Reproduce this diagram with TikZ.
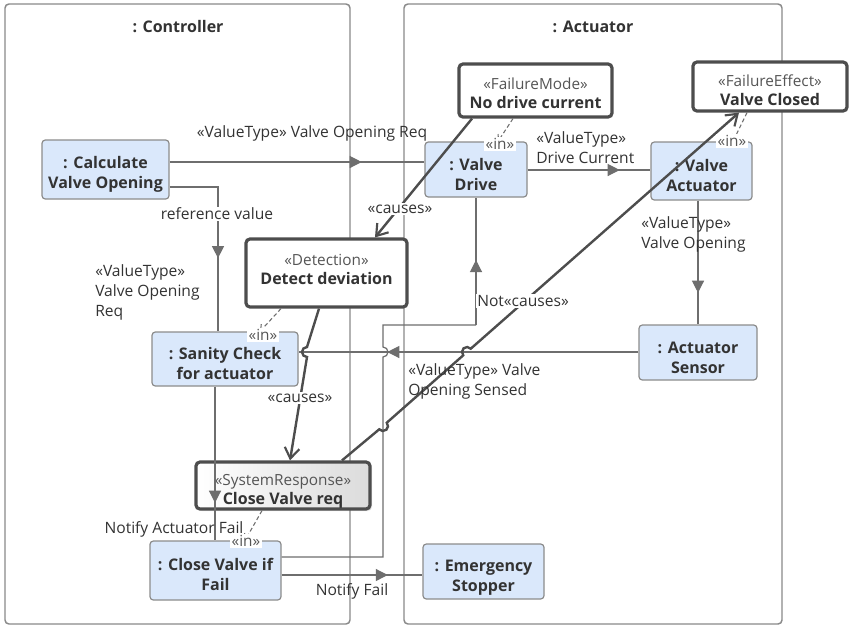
\documentclass[tikz,border=0pt]{standalone}
\usepackage{fontspec}
\setmainfont{Open Sans}
\usetikzlibrary{arrows.meta,shadows,decorations.markings}
\definecolor{blkfill}{HTML}{DAE8FB}
\definecolor{blkline}{HTML}{8C8C8C}
\definecolor{wirecol}{HTML}{6E6E6E}
\definecolor{heavy}{HTML}{4D4D4D}
\definecolor{ink}{HTML}{333333}
\definecolor{stereo}{HTML}{555555}
\definecolor{framecol}{HTML}{8A8A8A}
\newcommand\stype[1]{{\color{stereo}#1}}
\newcommand\bname[1]{{\fontsize{12}{14.3}\selectfont\bfseries #1}}
\begin{document}
\begin{tikzpicture}[x=0.75pt,y=-0.75pt,
  font=\fontsize{11.7}{15}\selectfont, text=ink,
  sz/.style 2 args={minimum width=#1*0.75pt, minimum height=#2*0.75pt},
  frame/.style={draw=framecol, line width=1.1pt, rounded corners=3pt, inner sep=0pt},
  title/.style={font=\fontsize{12}{15}\selectfont\bfseries},
  blk/.style={draw=blkline, fill=blkfill, line width=0.9pt, rounded corners=2.5pt, inner sep=0pt},
  btxt/.style={align=center, inner sep=0pt, text=ink, font=\fontsize{12}{15}\selectfont\bfseries},
  fault/.style={draw=heavy, fill=white, line width=2.4pt, rounded corners=3pt, inner sep=0pt},
  ftxt/.style={align=center, inner sep=0pt, text=ink, font=\fontsize{11.5}{14.3}\selectfont},
  wire/.style={draw=wirecol, line width=0.9pt},
  mid/.style={postaction={decorate,decoration={markings,
    mark=at position #1 with {\arrow{Triangle[length=9pt,width=9pt]}}}}},
  cause/.style={draw=heavy, line width=1.8pt,
    -{Straight Barb[length=8pt,width=11pt,line width=1.6pt]}},
  inlink/.style={draw=wirecol, line width=0.8pt, dash pattern=on 3pt off 2pt,
    -{Straight Barb[length=4pt,width=6pt]}},
  inlabel/.style={fill=white, inner sep=1pt, font=\fontsize{11.5}{13}\selectfont, text=stereo},
  lbl/.style={align=left, inner sep=0pt, text=ink},
  bglbl/.style={fill=white, inner sep=1pt, text=ink},
]
\useasboundingbox (0,0) rectangle (849,626);
\fill[white] (0,0) rectangle (849,626);

% two part frames
\node[frame, sz={345}{620}] (ctrl) at (177.5,314) {};
\node[title] (ctrltitle) at (178,27) {: Controller};
\node[frame, sz={378}{620}] (act) at (593,314) {};
\node[title] (acttitle) at (593,27) {: Actuator};

% functional blocks (names set slightly below the box centre)
\node[blk, sz={127}{59}, label={[btxt, yshift=-3.5pt]center:{: Calculate\\Valve Opening}}] (calc) at (105.5,169.5) {};
\node[blk, sz={102}{55}, label={[btxt, yshift=-3.5pt]center:{: Valve\\Drive}}] (drive) at (476,169.5) {};
\node[blk, sz={101}{58}, label={[btxt, yshift=-3pt]center:{: Valve\\Actuator}}] (vact) at (701.5,171) {};
\node[blk, sz={118}{55}, label={[btxt, yshift=-4pt]center:{: Actuator\\Sensor}}] (sensor) at (698,352.5) {};
\node[blk, sz={121}{55}, label={[btxt, yshift=-4.3pt]center:{: Emergency\\Stopper}}] (stop) at (483.5,571.5) {};
\node[blk, sz={146}{54}, label={[btxt, yshift=-3.5pt]center:{: Sanity Check\\for actuator}}] (sanity) at (225,359) {};
\node[blk, sz={131}{59}, label={[btxt, yshift=-3pt]center:{: Close Valve if\\Fail}}] (cvif) at (215.5,570.5) {};

% failure analysis elements
\node[fault, sz={161}{68}, label={[ftxt, yshift=3pt]center:{\stype{«Detection»}\\\bname{Detect deviation}}}] (detect) at (326.5,273) {};
\node[fault, sz={153}{53}, label={[ftxt, yshift=-1.8pt]center:{\stype{«FailureMode»}\\\bname{No drive current}}}] (fmode) at (535.5,90.5) {};
\node[fault, sz={154}{49}, label={[ftxt, yshift=-2.5pt]center:{\stype{«FailureEffect»}\\\bname{Valve Closed}}}] (feff) at (770,86.5) {};
\node[fault, sz={174}{47}, fill=none, left color=white, middle color=white, right color=black!14,
  drop shadow={opacity=0.2, shadow xshift=1.5pt, shadow yshift=-1.5pt},
  label={[ftxt, yshift=-4.5pt]center:{\stype{«SystemResponse»}\\\bname{Close Valve req}}}]
  (sresp) at (283,485.5) {};

% item flows
\draw[wire, mid=0.754] (calc.east |- 0,162) -- (drive.west |- 0,162);
\draw[wire, mid=0.62] (calc.east |- 0,187) -| (sanity.north -| 218,0);
\draw[wire, mid=0.75] (drive.east |- 0,170) -- (vact.west |- 0,170);
\draw[wire, mid=0.744] (vact.south -| 698,0) -- (sensor.north -| 698,0);
\draw[wire, mid=0.739] (sensor.west |- 0,352) -- (sanity.east |- 0,352);
\draw[wire, mid=0.755] (sanity.south -| 215,0) -- (cvif.north -| 215,0);
\draw[wire, mid=0.754] (cvif.east |- 0,575) -- (stop.west |- 0,575);
\coordinate (bend) at (476,325);
\draw[wire] (cvif.east |- 0,557) -- (383,557) -- (383,357)
  arc[start angle=90, end angle=-90, radius=5] -- (383,325) -- (bend);
\draw[wire, mid=0.51] (bend) -- (drive.south -| 476,0);

% cause relations
\draw[cause] (fmode.south -| 472,0) -- (detect.north -| 375,0);
\draw[cause] (detect.south -| 319,0) -- (307,347)
  arc[start angle=-90, end angle=-270, radius=5] -- (sresp.north -| 290,0);
\draw[cause] (sresp.north -| 342,0) -- (379.24,429.3)
  arc[start angle=138.7, end angle=-41.3, radius=5] -- (463.24,355.3)
  arc[start angle=138.7, end angle=318.7, radius=5] -- (feff.south -| 739,0);

% allocation links
\draw[inlink] (fmode.south -| 513,0) -- (drive.north -| 498,0);
\draw[inlink] (feff.south -| 747,0) -- (vact.north -| 733,0);
\draw[inlink] (detect.south -| 281,0) -- (sanity.north -| 260,0);
\draw[inlink] (sresp.south -| 262,0) -- (cvif.north -| 245,0);
\node[inlabel] (in1) at (500,144) {«in»};
\node[inlabel] (in2) at (732,141) {«in»};
\node[inlabel] (in3) at (263,335) {«in»};
\node[inlabel] (in4) at (246,541) {«in»};

% connector labels
\node[lbl] (l1) at (312,133) {«ValueType» Valve Opening Req};
\node[bglbl] (l2) at (217,214) {reference value};
\node[lbl, anchor=west] (l3) at (95,292) {«ValueType»\\Valve Opening\\Req};
\node[lbl, anchor=west] (l4) at (536,147.5) {«ValueType»\\Drive Current};
\node[lbl, anchor=west] (l5) at (641,234) {«ValueType»\\Valve Opening};
\node[lbl, anchor=west] (l6) at (408,381) {«ValueType» Valve\\Opening Sensed};
\node[lbl] (l7) at (174,529) {Notify Actuator Fail};
\node[lbl] (l8) at (352,591) {Notify Fail};
\node[bglbl] (c1) at (400,209) {«causes»};
\node[bglbl] (c2) at (300,398) {«causes»};
\node[bglbl] (c3) at (523,301) {Not«causes»};
\end{tikzpicture}
\end{document}
